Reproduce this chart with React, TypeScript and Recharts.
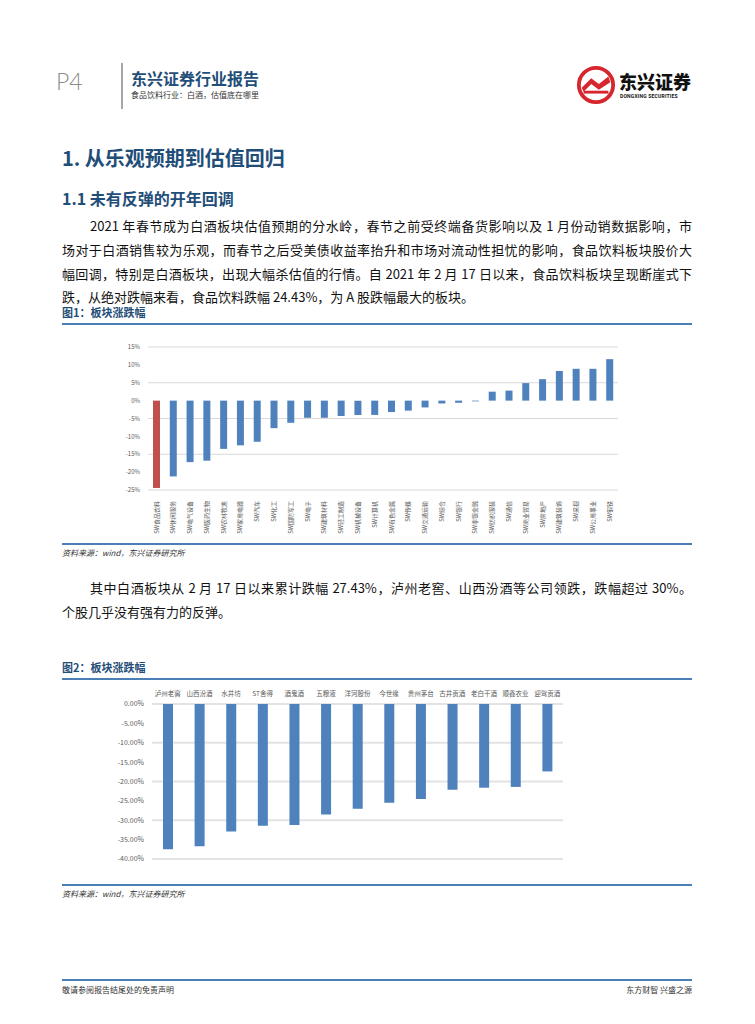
import React from 'react';
import { BarChart, Bar, XAxis, YAxis, CartesianGrid, Cell } from 'recharts';

// 图1 申万一级板块涨跌幅 (%)
const sectors = [
  'SW食品饮料', 'SW休闲服务', 'SW电气设备', 'SW医药生物', 'SW农林牧渔', 'SW家用电器', 'SW汽车',
  'SW化工', 'SW国防军工', 'SW电子', 'SW建筑材料', 'SW轻工制造', 'SW机械设备', 'SW计算机',
  'SW有色金属', 'SW传媒', 'SW交通运输', 'SW综合', 'SW银行', 'SW非银金融', 'SW纺织服装',
  'SW通信', 'SW商业贸易', 'SW房地产', 'SW建筑装饰', 'SW采掘', 'SW公用事业', 'SW钢铁',
];
const sectorChange = [
  -24.43, -21.2, -17.2, -16.8, -13.5, -12.5, -11.5, -7.7, -6.2, -4.8, -4.8, -4.3, -4.0, -4.0,
  -3.2, -2.8, -1.9, -0.8, -0.6, -0.2, 2.5, 2.8, 4.9, 6.0, 8.3, 8.9, 8.9, 11.6,
];
const sectorTicks = [15, 10, 5, 0, -5, -10, -15, -20, -25];

// 图2 白酒个股涨跌幅 (%)
const stocks = [
  '泸州老窖', '山西汾酒', '水井坊', 'ST舍得', '酒鬼酒', '五粮液', '洋河股份',
  '今世缘', '贵州茅台', '古井贡酒', '老白干酒', '顺鑫农业', '迎驾贡酒',
];
const stockChange = [-37.5, -36.7, -32.9, -31.4, -31.2, -28.5, -27.0, -25.5, -24.5, -22.1, -21.6, -21.4, -17.4];
const stockTicks = [0, -5, -10, -15, -20, -25, -30, -35, -40];

const sectorData = sectors.map((name, i) => ({ name, value: sectorChange[i] }));
const stockData = stocks.map((name, i) => ({ name, value: stockChange[i] }));

const CJK = '"Noto Sans CJK SC", "Noto Sans", sans-serif';
const NAVY = '#1f4e79';
const RULE = '#4a7eb5';

const VerticalTick = (props: any) => {
  const { x, y, payload } = props;
  return (
    <g transform={`translate(${x},${y + 3}) rotate(-90)`}>
      <text x={0} y={0} dy="0.35em" textAnchor="end" fontSize={6} fill="#595959" fontFamily={CJK}>
        {payload.value}
      </text>
    </g>
  );
};

const abs = (left: number, top: number, extra: React.CSSProperties = {}): React.CSSProperties => ({
  position: 'absolute',
  left,
  top,
  lineHeight: 1.2,
  whiteSpace: 'nowrap',
  ...extra,
});

const Rule = ({ top }: { top: number }) => (
  <div style={abs(62, top, { width: 630, height: 2, background: RULE })} />
);

const lineStyle: React.CSSProperties = {
  position: 'absolute',
  left: 62,
  width: 630,
  fontSize: 13,
  lineHeight: '16px',
  color: '#111',
  textAlign: 'justify',
  textAlignLast: 'justify',
  whiteSpace: 'nowrap',
};

export default function App() {
  return (
    <div style={{ position: 'absolute', left: 0, top: 0, width: 755, height: 1024, background: '#fff', fontFamily: CJK, overflow: 'hidden' }}>
      {/* header */}
      <div style={abs(56, 68, { fontSize: 23, color: '#8c8c8c', fontFamily: 'Lato, sans-serif', fontWeight: 300 })}>P4</div>
      <div style={abs(121, 63, { width: 2, height: 46, background: '#a6a6a6' })} />
      <div style={abs(131, 69, { fontSize: 16, fontWeight: 700, color: NAVY })}>东兴证券行业报告</div>
      <div style={abs(131, 90, { fontSize: 8, color: '#333' })}>食品饮料行业：白酒，估值底在哪里</div>
      <svg style={abs(576, 65)} width={40} height={40} viewBox="0 0 42 42">
        <circle cx={21} cy={21} r={18} fill="none" stroke="#d7262e" strokeWidth={4} />
        <path d="M6 24 L16 14 L24 20 L34 12 L36 18 L24 26 L16 20 L8 28 Z" fill="#d7262e" />
        <rect x={8} y={27} width={26} height={3} fill="#d7262e" />
      </svg>
      <div style={abs(619, 72, { fontSize: 18, fontWeight: 900, color: '#111', lineHeight: 1 })}>东兴证券</div>
      <div style={abs(620, 94, { fontSize: 5, fontWeight: 700, color: '#111', fontFamily: 'Roboto, sans-serif', lineHeight: 1, letterSpacing: 0.2 })}>DONGXING SECURITIES</div>

      {/* headings */}
      <div style={abs(62, 146, { fontSize: 20, fontWeight: 700, color: NAVY })}>1. 从乐观预期到估值回归</div>
      <div style={abs(62, 189, { fontSize: 16, fontWeight: 700, color: NAVY })}>1.1 未有反弹的开年回调</div>

      <div style={{ ...lineStyle, top: 218, left: 90, width: 602 }}>2021 年春节成为白酒板块估值预期的分水岭，春节之前受终端备货影响以及 1 月份动销数据影响，市</div>
      <div style={{ ...lineStyle, top: 242 }}>场对于白酒销售较为乐观，而春节之后受美债收益率抬升和市场对流动性担忧的影响，食品饮料板块股价大</div>
      <div style={{ ...lineStyle, top: 266 }}>幅回调，特别是白酒板块，出现大幅杀估值的行情。自 2021 年 2 月 17 日以来，食品饮料板块呈现断崖式下</div>
      <div style={{ ...lineStyle, top: 289, textAlign: 'left', textAlignLast: 'left' }}>跌，从绝对跌幅来看，食品饮料跌幅 24.43%，为 A 股跌幅最大的板块。</div>

      {/* figure 1 */}
      <div style={abs(62, 306, { fontSize: 11, fontWeight: 700, color: NAVY })}>图1：板块涨跌幅</div>
      <Rule top={323} />
      <div style={abs(100, 335)}>
        <BarChart width={530} height={210} data={sectorData} margin={{ top: 12, right: 12, bottom: 0, left: 0 }} barSize={7}>
          <CartesianGrid vertical={false} stroke="#d9d9d9" />
          <XAxis dataKey="name" interval={0} height={55} tick={<VerticalTick />} tickLine={false} axisLine={false} />
          <YAxis
            width={48}
            domain={[-25, 15]}
            ticks={sectorTicks}
            tickFormatter={(v: number) => `${v}%`}
            tick={{ fontSize: 6, fill: '#595959' }}
            tickLine={false}
            axisLine={false}
          />
          <Bar dataKey="value" isAnimationActive={false}>
            {sectorData.map((d, i) => (
              <Cell key={d.name} fill={i === 0 ? '#c0504d' : '#4f81bd'} />
            ))}
          </Bar>
        </BarChart>
      </div>
      <Rule top={543} />
      <div style={abs(62, 548, { fontSize: 8, fontStyle: 'italic', color: '#333' })}>资料来源：wind，东兴证券研究所</div>

      <div style={{ ...lineStyle, top: 580, left: 90, width: 602 }}>其中白酒板块从 2 月 17 日以来累计跌幅 27.43%，泸州老窖、山西汾酒等公司领跌，跌幅超过 30%。</div>
      <div style={{ ...lineStyle, top: 604, textAlign: 'left', textAlignLast: 'left' }}>个股几乎没有强有力的反弹。</div>

      {/* figure 2 */}
      <div style={abs(62, 661, { fontSize: 11, fontWeight: 700, color: NAVY })}>图2：板块涨跌幅</div>
      <Rule top={678} />
      <div style={abs(90, 680)}>
        <BarChart width={490} height={190} data={stockData} margin={{ top: 0, right: 17, bottom: 11, left: 0 }} barSize={10}>
          <CartesianGrid vertical={false} stroke="#e3e3e3" strokeWidth={2} />
          <XAxis
            dataKey="name"
            orientation="top"
            interval={0}
            height={24}
            tick={{ fontSize: 6.5, fill: '#595959' }}
            tickLine={false}
            axisLine={false}
          />
          <YAxis
            width={62}
            domain={[-40, 0]}
            ticks={stockTicks}
            tickFormatter={(v: number) => `${v.toFixed(2)}%`}
            tick={{ fontSize: 7, fill: '#595959' }}
            tickLine={false}
            axisLine={false}
          />
          <Bar dataKey="value" fill="#4f81bd" isAnimationActive={false} />
        </BarChart>
      </div>
      <Rule top={884} />
      <div style={abs(62, 889, { fontSize: 8, fontStyle: 'italic', color: '#333' })}>资料来源：wind，东兴证券研究所</div>

      {/* footer */}
      <Rule top={979} />
      <div style={abs(62, 985, { fontSize: 8, color: '#333' })}>敬请参阅报告结尾处的免责声明</div>
      <div style={abs(592, 985, { width: 100, textAlign: 'right', fontSize: 8, color: '#333' })}>东方财智 兴盛之源</div>
    </div>
  );
}
